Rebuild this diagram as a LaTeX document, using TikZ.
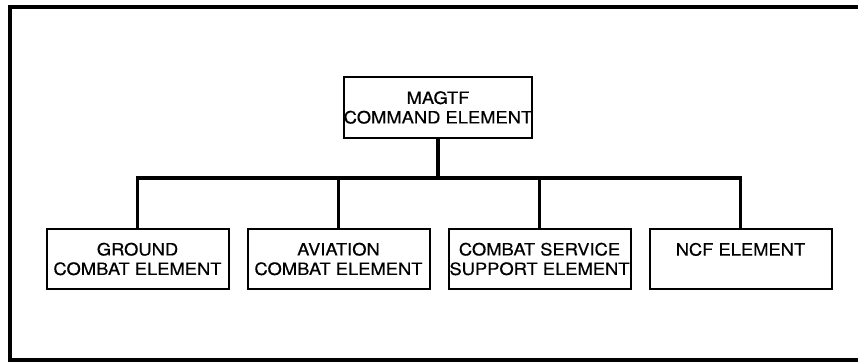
\documentclass[tikz,border=0pt]{standalone}
\usepackage{fontspec}
\setmainfont{TeX Gyre Heros}
\newfontfamily\unitfont{TeX Gyre Heros}[FakeStretch=1.08, FakeBold=0.4]
\usetikzlibrary{positioning}

\begin{document}
\begin{tikzpicture}[x=1pt, y=-1pt,
    unit/.style={draw, line width=2pt, align=center, inner sep=0pt,
        font=\unitfont\fontsize{17}{19.5}\selectfont, minimum width=182pt, minimum height=60pt},
    bus/.style={line width=3.5pt},
    frame/.style={line width=4pt}]
    \useasboundingbox (0,0) rectangle (858,362);
    \draw[frame] (870,7) -| (10,360) -- (870,360);

    \node[unit, minimum width=188pt, minimum height=61pt] (ce) at (438,107.5) {MAGTF\\COMMAND ELEMENT};
    \node[unit] (gce) at (137.5,259) {GROUND\\COMBAT ELEMENT};
    \node[unit, right=17pt of gce] (ace) {AVIATION\\COMBAT ELEMENT};
    \node[unit, right=17pt of ace] (csse) {COMBAT SERVICE\\SUPPORT ELEMENT};
    \node[unit, right=17pt of csse] (ncf) {NCF ELEMENT\\~};

    \coordinate (bus) at (ce.south |- 0,178);
    \draw[bus] (ce.south) -- (bus);
    \foreach \el in {gce,ace,csse,ncf}
        \draw[bus] (bus) -| (\el.north);
\end{tikzpicture}
\end{document}
